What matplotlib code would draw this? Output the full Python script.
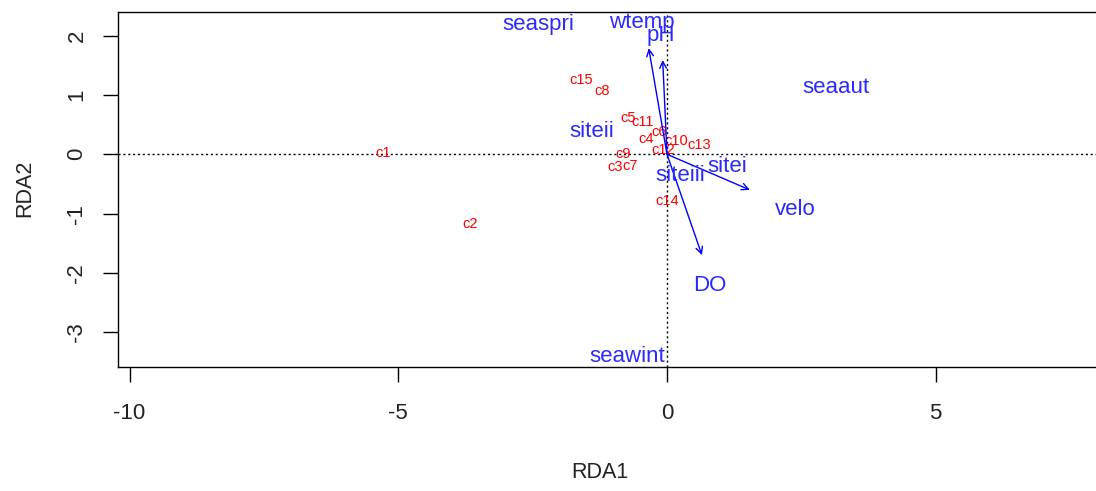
import matplotlib
matplotlib.use("Agg")
import matplotlib.pyplot as plt

# ---------------- data ----------------
site_labels = ["c1", "c2", "c3", "c4", "c5", "c6", "c7", "c8", "c9", "c10",
               "c11", "c12", "c13", "c14", "c15"]
site_x = [-5.28, -3.67, -0.96, -0.39, -0.72, -0.15, -0.69, -1.21, -0.81, 0.18,
          -0.45, -0.07, 0.60, 0.00, -1.59]
site_y = [0.02, -1.18, -0.22, 0.26, 0.62, 0.38, -0.19, 1.07, 0.00, 0.22,
          0.54, 0.07, 0.15, -0.78, 1.25]

env_labels = ["wtemp", "pH", "velo", "DO"]
env_x = [-0.34, -0.08, 1.54, 0.65]
env_y = [1.79, 1.59, -0.60, -1.70]
env_lab_x = [-0.47, -0.11, 2.38, 0.80]
env_lab_y = [2.22, 2.00, -0.93, -2.21]

cent_labels = ["seaspri", "seaaut", "siteii", "siteiii", "sitei", "seawint"]
cent_x = [-2.40, 3.14, -1.40, 0.24, 1.12, -0.74]
cent_y = [2.19, 1.13, 0.39, -0.35, -0.20, -3.41]

x_ticks = [-10, -5, 0, 5]
y_ticks = [-3, -2, -1, 0, 1, 2]

# ---------------- figure ----------------
W, H, DPI = 1096, 491, 100
plt.rcParams["font.family"] = ["Liberation Sans", "DejaVu Sans"]

fig = plt.figure(figsize=(W / DPI, H / DPI), dpi=DPI)
left_px, right_px, top_px, bot_px = 118, 1100, 12, 366.5
ax = fig.add_axes([left_px / W, 1 - bot_px / H,
                   (right_px - left_px) / W, (bot_px - top_px) / H])
x0_px, xs = 667.0, 53.74
y0_px, ys = 154.3, 59.3
ax.set_xlim((left_px - x0_px) / xs, (right_px - x0_px) / xs)
ax.set_ylim((y0_px - bot_px) / ys, (y0_px - top_px) / ys)

for s in ax.spines.values():
    s.set_linewidth(1.0)
    s.set_color("black")

ax.set_xticks(x_ticks)
ax.set_yticks(y_ticks)
ax.set_xticklabels([str(v) for v in x_ticks])
ax.set_yticklabels([str(v) for v in y_ticks])
ax.tick_params(axis="both", direction="out", length=11, width=1.0,
               labelsize=16, color="black", labelcolor="#222222")
ax.tick_params(axis="x", pad=15)
ax.tick_params(axis="y", pad=11, labelrotation=90)
for lab in ax.get_yticklabels():
    lab.set_va("center")

# reference lines
ax.axhline(0, color="black", lw=1.0, ls=(0, (1.5, 2)), zorder=1)
ax.axvline(0, color="black", lw=1.0, ls=(0, (1.5, 2)), zorder=1)

# site scores
for lab, x, y in zip(site_labels, site_x, site_y):
    ax.text(x, y, lab, color="red", fontsize=10.5, ha="center", va="center",
            zorder=3)

# biplot arrows
for x, y in zip(env_x, env_y):
    ax.annotate("", xy=(x, y), xytext=(0, 0),
                arrowprops=dict(arrowstyle="->", color="blue", lw=1.0,
                                shrinkA=0, shrinkB=0, mutation_scale=12),
                zorder=4)
for lab, x, y in zip(env_labels, env_lab_x, env_lab_y):
    ax.text(x, y, lab, color="#2a2aff", fontsize=16, ha="center",
            va="center", zorder=5)

# centroids
for lab, x, y in zip(cent_labels, cent_x, cent_y):
    ax.text(x, y, lab, color="#2a2aff", fontsize=16, ha="center",
            va="center", zorder=5)

fig.text(600 / W, 1 - 472 / H, "RDA1", fontsize=15.5, ha="center",
         va="center", color="#222222")
fig.text(25 / W, 1 - 188 / H, "RDA2", fontsize=15.5, ha="center",
         va="center", rotation=90, color="#222222")

fig.savefig("out.png", dpi=DPI, facecolor="white")
